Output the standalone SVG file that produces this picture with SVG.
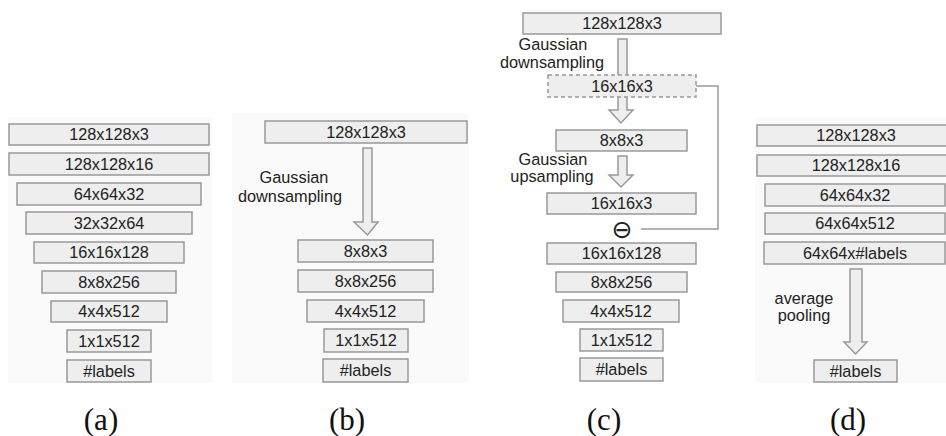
<svg xmlns="http://www.w3.org/2000/svg" width="946" height="436" viewBox="0 0 946 436">
<style>
.bg{fill:#fafafa;stroke:none}
.box rect{fill:#eeeeee;stroke:#999999;stroke-width:1.5}
.box text,.lbl{font-family:"Liberation Sans",Arial,sans-serif;font-size:16.3px;fill:#222222;text-anchor:middle}
.dash rect{stroke-dasharray:4 3}
.arrow{fill:#eeeeee;stroke:#999999;stroke-width:1.5;stroke-linejoin:miter}
.conn{fill:none;stroke:#999999;stroke-width:1.5}
.cap{font-family:"Liberation Serif","Times New Roman",serif;font-size:31px;fill:#111111;text-anchor:middle}
.op{font-family:"DejaVu Sans",sans-serif;font-size:25px;fill:#222222;text-anchor:middle}
</style>
<rect width="946" height="436" fill="#ffffff"/>
<rect class="bg" x="8" y="117" width="204" height="266"/>
<rect class="bg" x="232" y="113" width="237" height="270"/>
<rect class="bg" x="755" y="118" width="191" height="265"/>

<!-- Panel (a) -->
<g id="a1" class="box"><rect x="9" y="124" width="200" height="21"/><text x="109" y="140">128x128x3</text></g>
<g id="a2" class="box"><rect x="9" y="153" width="200" height="22"/><text x="109" y="169.5">128x128x16</text></g>
<g id="a3" class="box"><rect x="17" y="183" width="184" height="22"/><text x="109" y="199.5">64x64x32</text></g>
<g id="a4" class="box"><rect x="26" y="212" width="166" height="22"/><text x="109" y="228.5">32x32x64</text></g>
<g id="a5" class="box"><rect x="34" y="242" width="150" height="21"/><text x="109" y="258">16x16x128</text></g>
<g id="a6" class="box"><rect x="42" y="271" width="134" height="22"/><text x="109" y="287.5">8x8x256</text></g>
<g id="a7" class="box"><rect x="51" y="301" width="116" height="21"/><text x="109" y="317">4x4x512</text></g>
<g id="a8" class="box"><rect x="67" y="330" width="84" height="22"/><text x="109" y="346.5">1x1x512</text></g>
<g id="a9" class="box"><rect x="67" y="360" width="84" height="22"/><text x="109" y="376.5">#labels</text></g>
<text class="cap" x="101" y="430">(a)</text>

<!-- Panel (b) -->
<g id="b1" class="box"><rect x="265" y="121" width="202" height="22"/><text x="366" y="137.5">128x128x3</text></g>
<g id="b2" class="box"><rect x="298" y="240" width="135" height="22"/><text x="365.5" y="256.5">8x8x3</text></g>
<g id="b3" class="box"><rect x="298" y="270" width="135" height="22"/><text x="365.5" y="286.5">8x8x256</text></g>
<g id="b4" class="box"><rect x="307" y="300" width="117" height="22"/><text x="365.5" y="316.5">4x4x512</text></g>
<g id="b5" class="box"><rect x="324" y="329" width="84" height="23"/><text x="366" y="346">1x1x512</text></g>
<g id="b6" class="box"><rect x="323" y="359" width="85" height="23"/><text x="365.5" y="376">#labels</text></g>
<text class="cap" x="347" y="430">(b)</text>

<!-- Panel (c) -->
<g id="c1" class="box"><rect x="523" y="13" width="198" height="21"/><text x="622" y="29">128x128x3</text></g>
<g id="c8" class="box"><rect x="547" y="193" width="149" height="21"/><text x="621.5" y="209">16x16x3</text></g>
<g id="c9" class="box"><rect x="547" y="243" width="149" height="21"/><text x="621.5" y="259">16x16x128</text></g>
<g id="c10" class="box"><rect x="556" y="272" width="131" height="20"/><text x="621.5" y="287.5">8x8x256</text></g>
<g id="c11" class="box"><rect x="563" y="300" width="116" height="22"/><text x="621" y="316.5">4x4x512</text></g>
<g id="c12" class="box"><rect x="580" y="329" width="83" height="22"/><text x="621.5" y="345.5">1x1x512</text></g>
<g id="c13" class="box"><rect x="580" y="358" width="83" height="23"/><text x="621.5" y="375">#labels</text></g>
<text class="cap" x="604" y="430">(c)</text>

<!-- Panel (d) -->
<g id="d1" class="box"><rect x="757" y="125" width="198" height="21"/><text x="856" y="141">128x128x3</text></g>
<g id="d2" class="box"><rect x="757" y="155" width="198" height="21"/><text x="856" y="171">128x128x16</text></g>
<g id="d3" class="box"><rect x="765" y="184" width="180" height="22"/><text x="855" y="200.5">64x64x32</text></g>
<g id="d4" class="box"><rect x="765" y="213" width="180" height="21"/><text x="855" y="229">64x64x512</text></g>
<g id="d5" class="box"><rect x="764" y="242" width="181" height="22"/><text x="855" y="258.5">64x64x#labels</text></g>
<g id="d6" class="box"><rect x="814" y="360" width="83" height="22"/><text x="855.5" y="376.5">#labels</text></g>
<text class="cap" x="848" y="430">(d)</text>

<!-- Connectors -->
<g id="connectors">
<path class="arrow" d="M363,148 H372 V222 H378 L367.5,235 L354,222 H363 Z"/>
<path class="arrow" d="M618,39 H627 V110 H633 L621,123 L609,110 H618 Z"/>
<path class="arrow" d="M618,156 H627 V175 H633 L621,187 L609,175 H618 Z"/>
<path class="arrow" d="M850,269 H862 V342 H867 L855.5,354 L844,342 H850 Z"/>
<path class="conn" d="M696,86 H718 V229 H641"/>
</g>

<g id="c2" class="box dash"><rect x="548" y="75" width="148" height="22"/><text x="622" y="91.5">16x16x3</text></g>
<g id="c5" class="box"><rect x="556" y="130" width="131" height="21"/><text x="621.5" y="146">8x8x3</text></g>

<g id="labels">
<text class="lbl" x="294" y="183">Gaussian</text>
<text class="lbl" x="290" y="202">downsampling</text>
<text class="lbl" x="553" y="50">Gaussian</text>
<text class="lbl" x="552" y="68">downsampling</text>
<text class="lbl" x="553" y="165">Gaussian</text>
<text class="lbl" x="552" y="182">upsampling</text>
<text class="lbl" x="804" y="304">average</text>
<text class="lbl" x="804" y="321">pooling</text>
<text class="op" x="622" y="238">⊖</text>
</g>
</svg>
